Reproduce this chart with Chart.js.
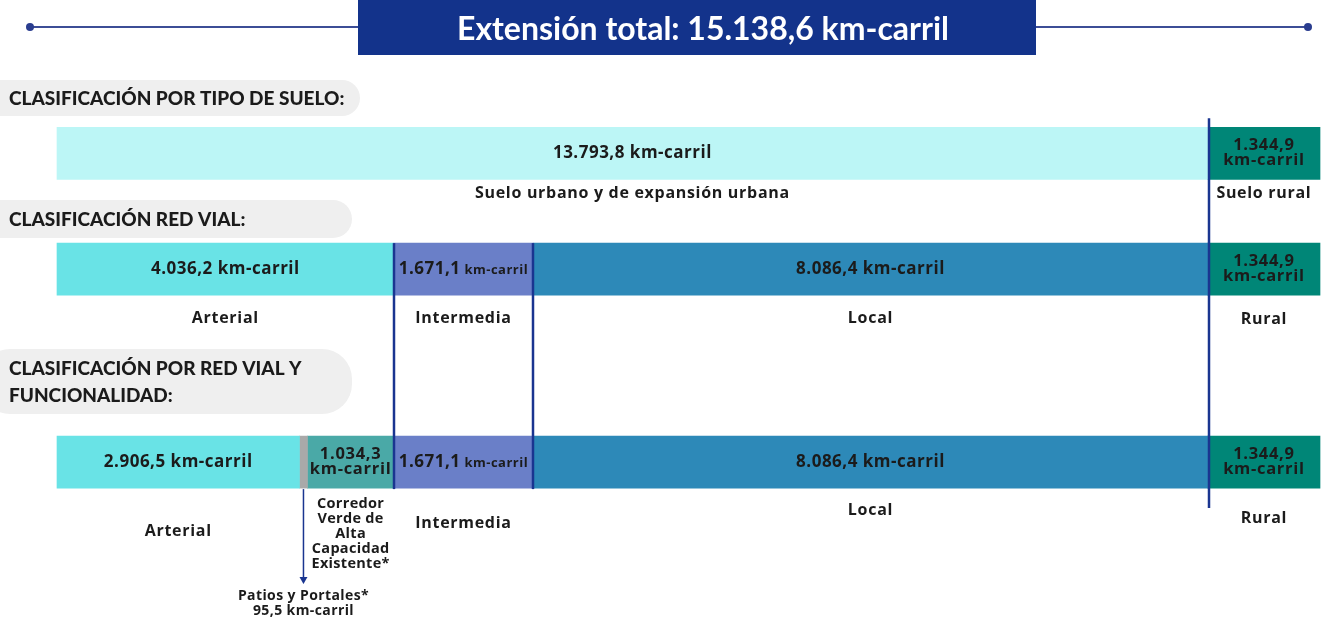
<!DOCTYPE html>
<html>
<head>
<meta charset="utf-8">
<script src="https://cdn.jsdelivr.net/npm/chart.js@4.4.1/dist/chart.umd.min.js"></script>
<style>
  body { margin: 0; background: #fff; }
  #wrap { width: 1324px; height: 634px; position: relative; }
</style>
</head>
<body>
<div id="wrap"><canvas id="vias"></canvas></div>
<script>
// total and rows
var total = 15138.6;
var rows = ['Tipo de suelo', 'Red vial', 'Red vial y funcionalidad'];
var rowSlot = [0, 3, 8];   // spacer categories give the uneven row spacing
var slotCount = 10;

// series (km-carril) per row
var urbano     = [13793.8, null, null];
var arterial   = [null, 4036.2, 2906.5];
var patios     = [null, null, 95.5];
var corredor   = [null, null, 1034.3];
var intermedia = [null, 1671.1, 1671.1];
var local      = [null, 8086.4, 8086.4];
var rural      = [1344.9, 1344.9, 1344.9];

// names printed under each segment, per row
var urbanoNames     = ['Suelo urbano y de expansión urbana', '', ''];
var arterialNames   = ['', 'Arterial', 'Arterial'];
var patiosNames     = ['', '', 'Patios y Portales*'];
var corredorNames   = ['', '', 'Corredor\nVerde de\nAlta\nCapacidad\nExistente*'];
var intermediaNames = ['', 'Intermedia', 'Intermedia'];
var localNames      = ['', 'Local', 'Local'];
var ruralNames      = ['Suelo rural', 'Rural', 'Rural'];

var headings = ['CLASIFICACIÓN POR TIPO DE SUELO:', 'CLASIFICACIÓN RED VIAL:', 'CLASIFICACIÓN POR RED VIAL Y\nFUNCIONALIDAD:'];
var titleText = 'Extensión total: 15.138,6 km-carril';

var series = [
  { data: urbano, names: urbanoNames, color: '#bcf6f6', dy: [40, 0, 0] },
  { data: arterial, names: arterialNames, color: '#69e3e6', dy: [0, 49, 69] },
  { data: patios, names: patiosNames, color: '#a9a9a9', dy: [0, 0, 0] },
  { data: corredor, names: corredorNames, color: '#4aa9a7', dy: [0, 0, 42] },
  { data: intermedia, names: intermediaNames, color: '#6a7fc8', dy: [0, 49, 61] },
  { data: local, names: localNames, color: '#2d89b8', dy: [0, 49, 48] },
  { data: rural, names: ruralNames, color: '#008677', dy: [40, 50, 56] }
];

function toSlots(arr) {
  var out = [];
  for (var i = 0; i < slotCount; i++) out.push(null);
  for (var r = 0; r < arr.length; r++) out[rowSlot[r]] = arr[r];
  return out;
}

function slotLabels() {
  var out = [];
  for (var i = 0; i < slotCount; i++) out.push('');
  for (var r = 0; r < rows.length; r++) out[rowSlot[r]] = rows[r];
  return out;
}

function fmt(v) {
  var p = v.toFixed(1).split('.');
  return p[0].replace(/\B(?=(\d{3})+(?!\d))/g, '.') + ',' + p[1];
}

var FONT = '"Open Sans", Lato, sans-serif';
var HFONT = 'Lato, "Open Sans", sans-serif';
var INK = '#1b1b1b';
var NAVY = '#1a3590';

function pill(ctx, x, y, w, h, r) {
  ctx.beginPath();
  ctx.moveTo(x + r, y);
  ctx.lineTo(x + w - r, y);
  ctx.arcTo(x + w, y, x + w, y + r, r);
  ctx.lineTo(x + w, y + h - r);
  ctx.arcTo(x + w, y + h, x + w - r, y + h, r);
  ctx.lineTo(x + r, y + h);
  ctx.arcTo(x, y + h, x, y + h - r, r);
  ctx.lineTo(x, y + r);
  ctx.arcTo(x, y, x + r, y, r);
  ctx.closePath();
  ctx.fill();
}

function multiline(ctx, text, x, y, lh) {
  var lines = text.split('\n');
  for (var i = 0; i < lines.length; i++) ctx.fillText(lines[i], x, y + i * lh);
}

function spacing(ctx, px) {
  if ('letterSpacing' in ctx) ctx.letterSpacing = px + 'px';
}

var decor = {
  id: 'decor',
  afterDraw: function(chart) {
    var ctx = chart.ctx;
    var xs = chart.scales.x, ys = chart.scales.y;
    ctx.save();

    // title band
    ctx.strokeStyle = '#3c4d96';
    ctx.lineWidth = 2;
    ctx.beginPath();
    ctx.moveTo(30, 27); ctx.lineTo(1308, 27);
    ctx.stroke();
    ctx.fillStyle = '#2a3d8f';
    [30, 1308].forEach(function(x) { ctx.beginPath(); ctx.arc(x, 27, 4, 0, Math.PI * 2); ctx.fill(); });
    ctx.fillStyle = '#13338b';
    ctx.fillRect(358, 0, 678, 55);
    ctx.fillStyle = '#fff';
    ctx.font = 'bold 32px ' + HFONT;
    ctx.textAlign = 'center';
    ctx.textBaseline = 'middle';
    ctx.fillText(titleText, 703, 30);

    // headings
    var hBoxes = [[80, 36, 360], [200, 38, 352], [349, 65, 352]];
    ctx.font = '900 19px ' + HFONT;
    ctx.textAlign = 'left';
    for (var h = 0; h < headings.length; h++) {
      var b = hBoxes[h];
      ctx.fillStyle = '#efefef';
      pill(ctx, -20, b[0], b[2] + 20, b[1], Math.min(b[1] / 2, 30));
      ctx.fillStyle = INK;
      var n = headings[h].split('\n').length;
      multiline(ctx, headings[h], 9, b[0] + b[1] / 2 - (n - 1) * 13.5 + 1, 27);
    }

    // value labels and names
    for (var r = 0; r < rows.length; r++) {
      var yc = ys.getPixelForValue(rowSlot[r]);
      var cum = 0;
      for (var s = 0; s < series.length; s++) {
        var v = series[s].data[r];
        if (v == null) continue;
        var x0 = xs.getPixelForValue(cum), x1 = xs.getPixelForValue(cum + v);
        var cx = (x0 + x1) / 2, w = x1 - x0;
        cum += v;
        ctx.fillStyle = INK;
        ctx.textAlign = 'center';
        ctx.textBaseline = 'middle';
        if (series[s].data === patios) {
          // arrow down to the note
          ctx.strokeStyle = NAVY;
          ctx.lineWidth = 1.5;
          ctx.beginPath();
          ctx.moveTo(cx, yc + 27); ctx.lineTo(cx, yc + 119);
          ctx.stroke();
          ctx.fillStyle = NAVY;
          ctx.beginPath();
          ctx.moveTo(cx - 4, yc + 115); ctx.lineTo(cx + 4, yc + 115); ctx.lineTo(cx, yc + 122);
          ctx.closePath(); ctx.fill();
          ctx.fillStyle = INK;
          ctx.font = 'bold 14px ' + FONT;
          spacing(ctx, 0.4);
          multiline(ctx, series[s].names[r] + '\n' + fmt(v) + ' km-carril', cx, yc + 134, 15);
          spacing(ctx, 0);
          continue;
        }
        if (w < 120) {
          ctx.font = 'bold 16.5px ' + FONT;
          spacing(ctx, 0.7);
          ctx.fillText(fmt(v), cx, yc - 8);
          ctx.fillText('km-carril', cx, yc + 7);
        } else if (w < 170) {
          var a = fmt(v), bTxt = ' km-carril';
          spacing(ctx, 0.5);
          ctx.font = 'bold 17px ' + FONT;
          var wa = ctx.measureText(a).width;
          ctx.font = 'bold 13px ' + FONT;
          var wb = ctx.measureText(bTxt).width;
          var left = cx - (wa + wb) / 2;
          ctx.textAlign = 'left';
          ctx.font = 'bold 17px ' + FONT;
          ctx.fillText(a, left, yc);
          ctx.font = 'bold 13px ' + FONT;
          ctx.fillText(bTxt, left + wa, yc + 1);
          ctx.textAlign = 'center';
        } else {
          ctx.font = 'bold 17px ' + FONT;
          spacing(ctx, 0.5);
          ctx.fillText(fmt(v) + ' km-carril', cx, yc);
        }
        var nm = series[s].names[r];
        if (nm) {
          var multi = nm.indexOf('\n') >= 0;
          ctx.font = (multi ? 'bold 14.5px ' : 'bold 16px ') + FONT;
          spacing(ctx, multi ? 0.3 : 0.7);
          multiline(ctx, nm, cx, yc + series[s].dy[r], 15);
        }
        spacing(ctx, 0);
      }
    }

    // divider lines
    ctx.strokeStyle = NAVY;
    ctx.lineWidth = 2.5;
    var y1 = ys.getPixelForValue(rowSlot[1]) - 26, y2 = ys.getPixelForValue(rowSlot[2]) + 27;
    [arterial[1], arterial[1] + intermedia[1]].forEach(function(v) {
      var x = Math.round(xs.getPixelForValue(v));
      ctx.beginPath(); ctx.moveTo(x, y1); ctx.lineTo(x, y2); ctx.stroke();
    });
    var xr = Math.round(xs.getPixelForValue(urbano[0])) + 1;
    ctx.beginPath();
    ctx.moveTo(xr, ys.getPixelForValue(rowSlot[0]) - 35);
    ctx.lineTo(xr, ys.getPixelForValue(rowSlot[2]) + 46);
    ctx.stroke();
    ctx.restore();
  }
};

var chart = new Chart(document.getElementById('vias').getContext('2d'), {
  type: 'bar',
  data: {
    labels: slotLabels(),
    datasets: series.map(function(s) {
      return { data: toSlots(s.data), backgroundColor: s.color, borderWidth: 0, barThickness: 52, clip: false };
    })
  },
  options: {
    indexAxis: 'y',
    responsive: true,
    maintainAspectRatio: false,
    animation: false,
    layout: { padding: { left: 57, right: 4, top: 134, bottom: 114 } },
    scales: {
      x: { stacked: true, min: 0, max: total, display: false },
      y: { stacked: true, display: false }
    },
    plugins: { legend: { display: false }, tooltip: { enabled: false } }
  },
  plugins: [decor]
});
</script>
</body>
</html>
